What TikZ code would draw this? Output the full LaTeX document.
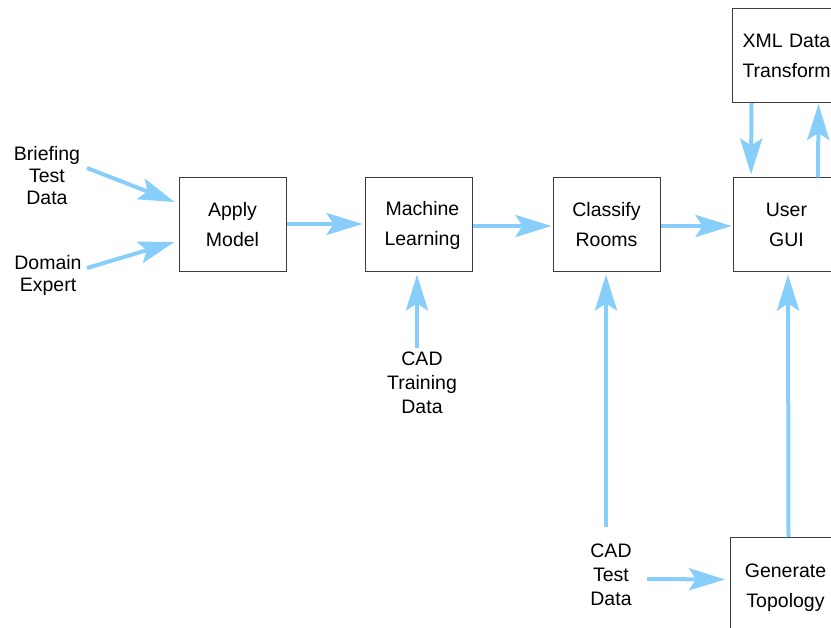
\documentclass[tikz,border=0pt]{standalone}
\usepackage{fontspec}
\setmainfont{Liberation Sans}
\usetikzlibrary{arrows.meta}
\definecolor{arrowblue}{RGB}{135,206,250}
\definecolor{boxgray}{RGB}{60,60,60}
\begin{document}
\begin{tikzpicture}[x=1pt,y=-1pt,
 box/.style={draw=boxgray,line width=1pt,minimum width=107pt,minimum height=94pt,inner sep=0pt,align=center,font=\fontsize{19.5}{30}\selectfont},
 lbl/.style={align=center,inner sep=0pt,font=\fontsize{19.5}{23}\selectfont},
 arr/.style={draw=arrowblue,line width=4pt,-{Stealth[length=36pt,width=22pt,inset=7pt]}}]
\useasboundingbox (0,0) rectangle (831,628);
\clip (0,0) rectangle (831,628);
% boxes
\node[box] (apply) at (232.5,225) {Apply\\Model};
\node[box] (ml) at (418.5,225) {\hspace*{8pt}Machine\\\hspace*{8pt}Learning};
\node[box] (cls) at (606.5,225) {Classify\\Rooms};
\node[box] (gui) at (786.5,225) {User\\GUI};
\node[box,anchor=north west,minimum width=140pt,text width=120pt,align=left,inner xsep=10pt] (xml) at (732,8) {XML Data\\Transform};
\node[box,anchor=north west,minimum width=110pt,minimum height=100pt] (gen) at (730,537) {Generate\\Topology};
% labels
\node[lbl,font=\fontsize{19.5}{22}\selectfont] (brief) at (47,176) {Briefing\\Test\\Data};
\node[lbl,font=\fontsize{19.5}{22}\selectfont] (dom) at (48,275) {Domain\\Expert};
\node[lbl,font=\fontsize{19.5}{24}\selectfont] (cadtr) at (422,383) {CAD\\Training\\Data};
\node[lbl,font=\fontsize{19.5}{24}\selectfont] (cadte) at (611,575) {CAD\\Test\\Data};
% free ends
\coordinate (bS) at (87,168);
\coordinate (dS) at (87,268);
\coordinate (trS) at (417,348);
\coordinate (teU) at (606,527);
\coordinate (teR) at (647,579);
% connectors
\draw[arr] (bS) -- ([shift={(-4,-23)}]apply.west);
\draw[arr] (dS) -- ([shift={(-4,17)}]apply.west);
\draw[arr] ([shift={(0,-1)}]apply.east) -- ([shift={(-2,-1)}]ml.west);
\draw[arr] ([shift={(0,1)}]ml.east) -- ([shift={(-1,1)}]cls.west);
\draw[arr] ([shift={(0,1)}]cls.east) -- ([shift={(-1,1)}]gui.west);
\draw[arr] (trS) -- ([shift={(-1.5,2)}]ml.south);
\draw[arr] (teU) -- ([shift={(-0.5,2)}]cls.south);
\draw[arr] (teR) -- ([shift={(-5,-8)}]gen.west);
\draw[arr] ([shift={(3,0)}]gen.north) -- ([shift={(1.5,2)}]gui.south);
\draw[arr] ([shift={(-51,0)}]xml.south) -- ([shift={(-35.5,-3)}]gui.north);
\draw[arr] ([shift={(31.5,0)}]gui.north) -- ([shift={(16,1)}]xml.south);
\end{tikzpicture}
\end{document}
